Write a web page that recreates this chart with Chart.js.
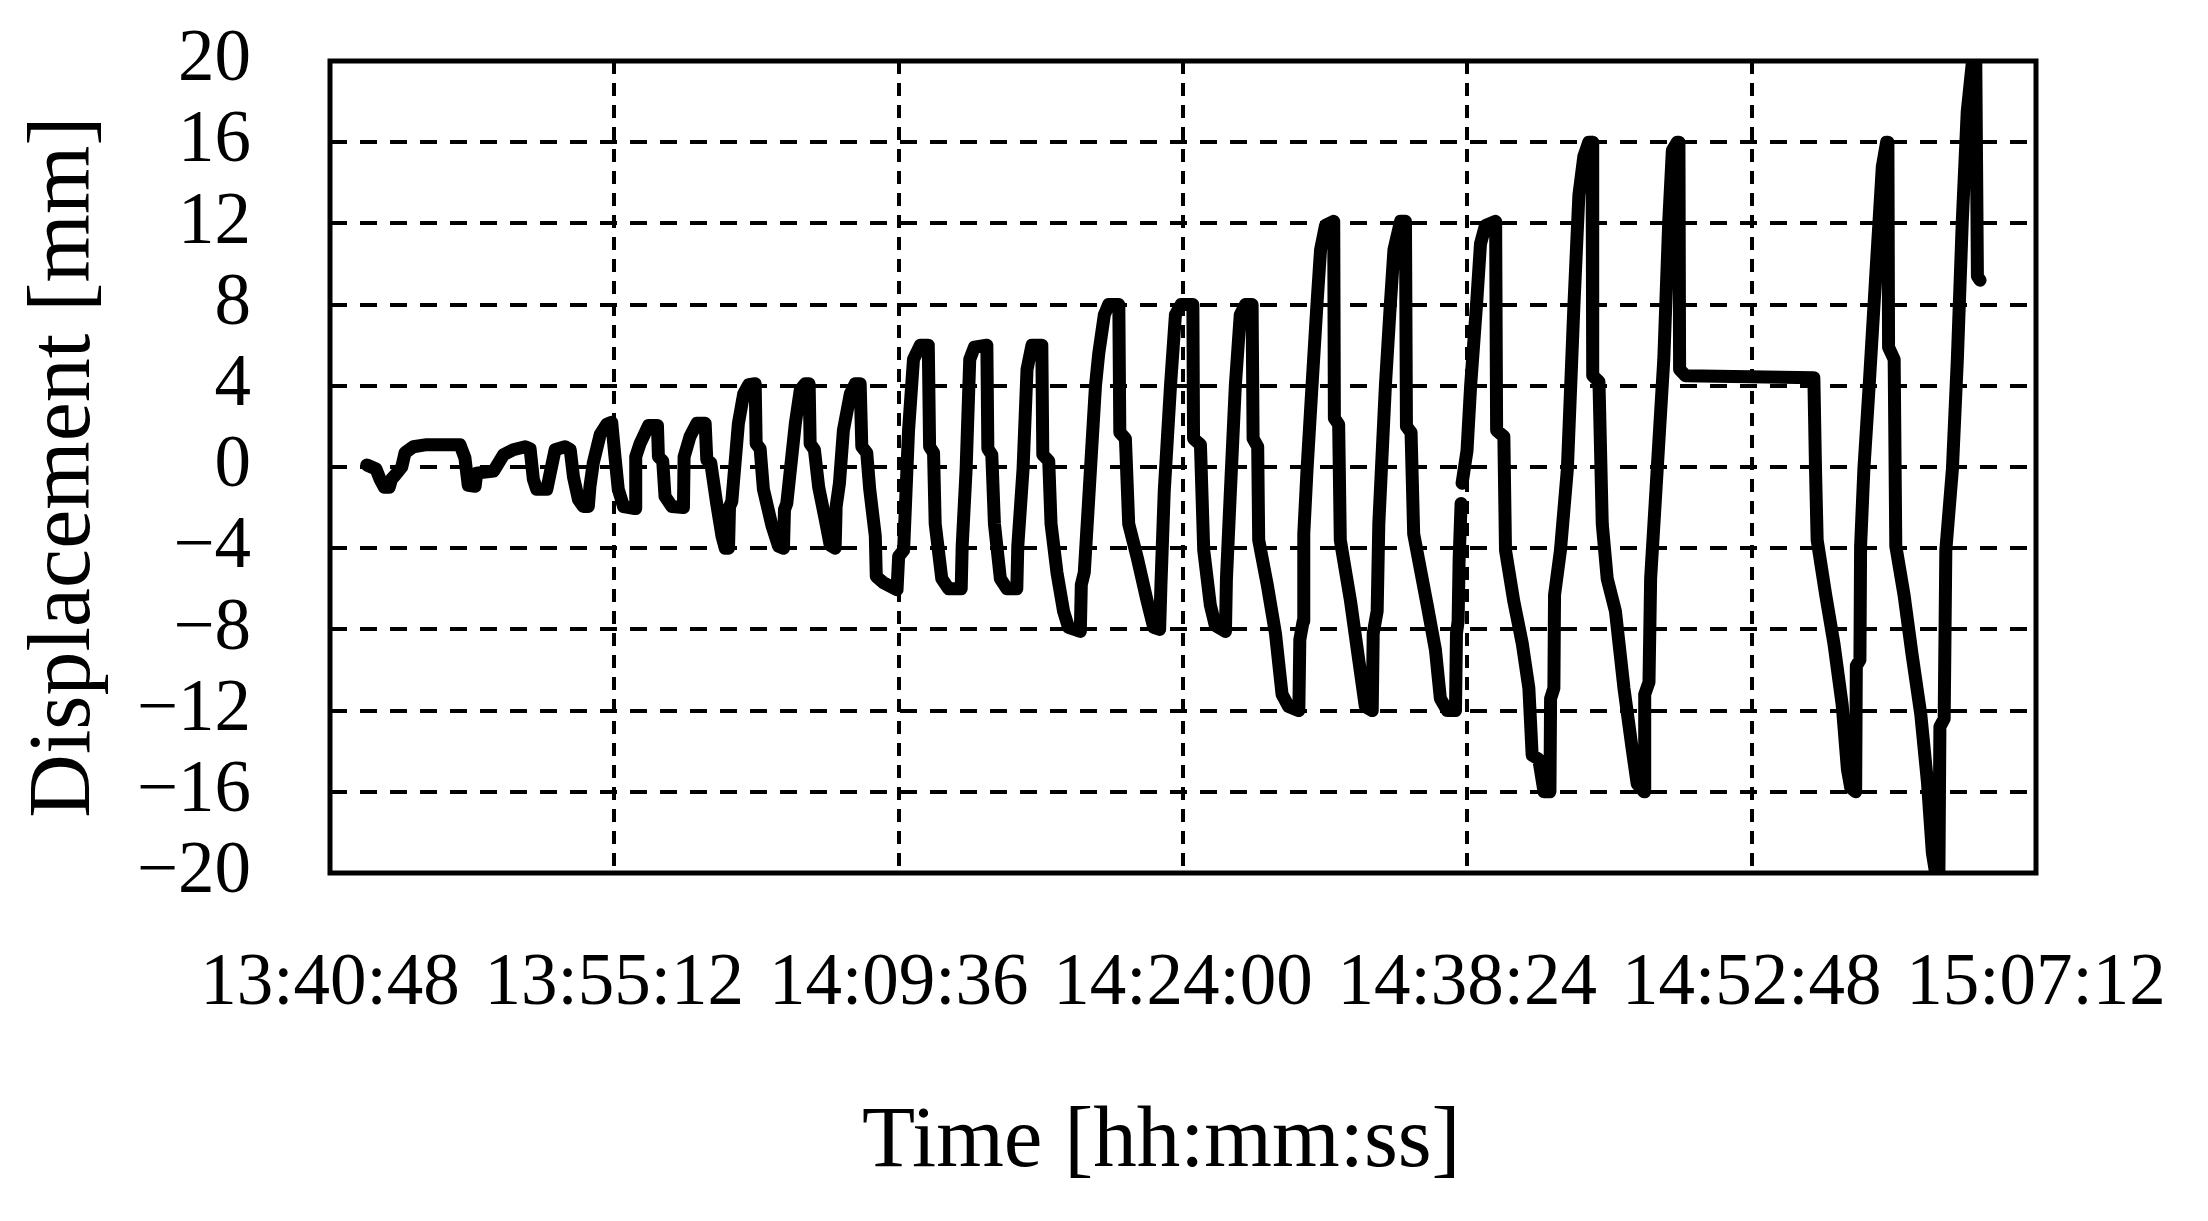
<!DOCTYPE html>
<html>
<head>
<meta charset="utf-8">
<script src="https://cdn.jsdelivr.net/npm/chart.js@4.4.1/dist/chart.umd.min.js"></script>
<style>
  html, body { margin: 0; padding: 0; background: #fff; }
  #wrap { width: 2208px; height: 1221px; }
</style>
</head>
<body>
<div id="wrap"><canvas id="disp"></canvas></div>
<script>
// x ticks: every 14:24 from 13:40:48
const timeLabels = ['13:40:48', '13:55:12', '14:09:36', '14:24:00', '14:38:24', '14:52:48', '15:07:12'];
const tickStep = 864; // seconds
const yTicks = [-20, -16, -12, -8, -4, 0, 4, 8, 12, 16, 20];

// [seconds after 13:40:48, displacement mm]
const warmUp = [[112,0.1],[140,-0.1],[152,-0.6],[165,-1.0],[180,-1.0],[187,-0.6],[198,-0.4],[218,0],[228,0.7],[253,1.0],
  [294,1.1],[395,1.1],[410,0.45],[420,-0.9],[441,-0.95],[446,-0.3],[497,-0.2],[527,0.6],[557,0.85],[593,1.0],
  [608,0.9],[618,-0.6],[628,-1.1],[659,-1.1],[669,-0.3],[684,0.85],[714,1.0],[730,0.85],[740,-0.5]];
const amp2 = [[755,-1.6],[770,-1.95],[785,-1.95],[790,-0.95],[800,0.2],[821,1.6],[841,2.1],[856,2.2],[866,0.5],[876,-1.1],
  [892,-1.95],[927,-2.05],[929,0.5],[942,1.15],[968,2.05],[995,2.05],[998,0.5],[1011,0.3],[1018,-1.45],[1039,-1.95],
  [1074,-2.0],[1076,0.5],[1094,1.5],[1115,2.15],[1140,2.15],[1145,0.35],[1157,0.2]];
const amp4 = [[1175,-1.8],[1191,-3.4],[1201,-4.0],[1211,-4.0],[1214,-1.95],[1221,-1.7],[1241,2.15],[1257,3.6],[1272,4.05],[1292,4.1],
  [1295,1.15],[1307,0.9],[1317,-1.1],[1343,-2.9],[1363,-3.9],[1378,-4.0],[1381,-2.1],[1388,-1.8],[1414,2.15],[1429,3.8],
  [1444,4.1],[1456,4.1],[1459,1.15],[1472,0.85],[1485,-1.0],[1505,-2.6],[1520,-3.85],[1535,-4.0],[1538,-1.95],[1548,-0.8],
  [1560,1.8],[1581,3.6],[1596,4.1],[1611,4.1],[1616,1.0],[1631,0.7],[1640,-1.1]];
const amp6 = [[1657,-3.4],[1660,-5.4],[1682,-5.7],[1723,-6.05],[1728,-4.4],[1743,-4.1],[1758,1.8],[1773,5.3],[1794,6.0],[1818,6.0],
  [1822,1.0],[1834,0.7],[1839,-2.8],[1859,-5.5],[1880,-6.0],[1918,-6.0],[1921,-3.9],[1933,-0.1],[1944,5.3],[1958,5.9],
  [1996,6.0],[1999,0.9],[2011,0.6],[2019,-2.8],[2037,-5.5],[2057,-6.0],[2087,-6.0],[2090,-3.9],[2106,-0.1],[2118,4.8],
  [2133,6.0],[2163,6.0],[2166,0.6],[2184,0.3]];
const amp8 = [[2191,-2.8],[2209,-5.2],[2229,-7.1],[2244,-7.9],[2280,-8.1],[2283,-5.8],[2292,-5.2],[2305,-1.7],[2326,4.0],[2336,5.6],
  [2353,7.5],[2366,8.0],[2397,8.0],[2400,1.7],[2417,1.4],[2427,-2.8],[2452,-4.4],[2483,-6.6],[2503,-7.9],[2521,-8.0],
  [2525,-5.8],[2535,-1.2],[2554,4.0],[2569,7.5],[2586,8.0],[2622,8.0],[2624,1.4],[2645,1.1],[2655,-4.1],[2675,-6.8],
  [2690,-7.8],[2721,-8.1],[2724,-5.5],[2736,-1.2],[2751,4.0],[2766,7.5],[2782,8.0],[2802,8.0],[2805,1.4],[2819,1.0]];
const amp12 = [[2822,-3.6],[2848,-5.8],[2873,-8.2],[2893,-11.2],[2913,-11.8],[2944,-12.0],[2947,-8.5],[2957,-7.6],[2959,-3.3],[2969,-0.1],
  [2984,4.0],[2999,8.0],[3010,10.7],[3025,11.9],[3050,12.1],[3052,2.4],[3065,2.1],[3070,-3.6],[3101,-6.6],[3126,-9.5],
  [3146,-11.8],[3167,-12.0],[3170,-8.2],[3182,-7.1],[3187,-2.8],[3207,4.0],[3222,8.0],[3233,10.7],[3253,12.1],[3268,12.1],
  [3271,2.0],[3285,1.7],[3293,-3.3],[3334,-6.8],[3359,-9.0],[3374,-11.4],[3395,-12.0],[3420,-12.0],[3423,-8.2],[3428,-7.6],
  [3431,-4.6],[3437,-1.8],[3438,null],[3440,-0.8],[3455,0.8],[3466,4.0],[3484,8.0],[3496,11.0],[3511,11.9],[3542,12.1],
  [3545,1.8],[3567,1.5]];
const amp16 = [[3572,-4.1],[3597,-6.6],[3607,-7.4],[3623,-8.7],[3643,-10.9],[3653,-14.2],[3673,-14.4],[3689,-16.0],[3707,-16.0],[3709,-11.4],
  [3719,-10.9],[3721,-6.3],[3739,-4.1],[3760,-0.1],[3780,8.0],[3795,13.4],[3810,15.3],[3825,16.0],[3835,16.0],[3837,4.5],
  [3856,4.2],[3866,-2.8],[3881,-5.5],[3906,-7.1],[3932,-10.9],[3957,-13.9],[3972,-15.6],[3993,-16.0],[3995,-11.2],[4008,-10.6],
  [4013,-5.5],[4033,-0.1],[4053,5.3],[4068,12.1],[4079,15.6],[4094,16.0],[4099,16.0],[4101,4.8],[4119,4.5],[4509,4.4],
  [4514,-0.1],[4519,-3.6],[4545,-6.3],[4570,-8.7],[4595,-11.7],[4611,-14.9],[4621,-15.8],[4636,-16.0],[4638,-9.8],[4649,-9.5],
  [4651,-3.9],[4661,-0.1],[4677,4.0],[4697,9.4],[4717,14.8],[4730,16.0],[4734,16.0],[4736,5.9],[4753,5.3]];
const amp20 = [[4758,-3.9],[4783,-6.3],[4808,-9.3],[4834,-12.2],[4854,-15.5],[4869,-19.0],[4879,-20.0],[4889,-20.0],[4892,-12.8],[4905,-12.4],
  [4910,-4.1],[4930,-0.1],[4945,5.3],[4960,12.1],[4975,17.5],[4991,20.0],[5001,20.0],[5006,9.4],[5014,9.2]];

const points = [...warmUp, ...amp2, ...amp4, ...amp6, ...amp8, ...amp12, ...amp16, ...amp20]
  .map(([t, d]) => ({ x: t, y: d }));

const serif = "'Liberation Serif', 'Times New Roman', serif";
const xMax = tickStep * (timeLabels.length - 1);

// plot frame drawn under the data line
const frame = {
  id: 'frame',
  beforeDatasetsDraw(chart) {
    const { ctx, chartArea: a } = chart;
    ctx.save();
    ctx.strokeStyle = '#000';
    ctx.lineWidth = 5;
    ctx.strokeRect(a.left, a.top, a.right - a.left, a.bottom - a.top);
    ctx.restore();
  }
};

new Chart(document.getElementById('disp'), {
  type: 'line',
  data: {
    datasets: [{
      data: points,
      borderColor: '#000',
      borderWidth: 13,
      borderCapStyle: 'round',
      borderJoinStyle: 'round',
      pointRadius: 0,
      tension: 0,
      spanGaps: false,
      fill: false
    }]
  },
  options: {
    responsive: true,
    maintainAspectRatio: false,
    animation: false,
    devicePixelRatio: 1,
    layout: { padding: { top: 61, right: 172, left: 0, bottom: 0 } },
    plugins: { legend: { display: false }, tooltip: { enabled: false } },
    scales: {
      x: {
        type: 'linear',
        min: 0,
        max: xMax,
        grid: {
          drawTicks: false,
          lineWidth: 4,
          color: c => (c.tick.value === 0 || c.tick.value === xMax) ? 'rgba(0,0,0,0)' : '#000'
        },
        border: { display: false, dash: [13, 9] },
        ticks: {
          stepSize: tickStep,
          autoSkip: false,
          maxRotation: 0,
          minRotation: 0,
          padding: 68,
          color: '#000',
          font: { family: serif, size: 73 },
          callback: v => timeLabels[Math.round(v / tickStep)]
        },
        title: {
          display: true,
          // trailing no-break spaces nudge the centred title slightly left, as in the figure
          text: 'Time [hh:mm:ss]\u00a0\u00a0',
          color: '#000',
          font: { family: serif, size: 87 },
          padding: { top: 0, bottom: 26 }
        },
        afterFit: s => { s.height = 348; s.paddingLeft = 0; s.paddingRight = 0; }
      },
      y: {
        min: -20,
        max: 20,
        afterBuildTicks: s => { s.ticks = yTicks.map(v => ({ value: v })); },
        grid: {
          drawTicks: false,
          lineWidth: 4,
          color: c => (Math.abs(c.tick.value) === 20) ? 'rgba(0,0,0,0)' : '#000'
        },
        border: { display: false, dash: [17, 13] },
        ticks: {
          autoSkip: false,
          padding: 79,
          color: '#000',
          font: { family: serif, size: 73 },
          callback: v => v < 0 ? '\u2212' + Math.abs(v) : String(v)
        },
        title: {
          display: true,
          text: 'Displacement [mm]',
          color: '#000',
          font: { family: serif, size: 88 },
          padding: { top: 13, bottom: 0 }
        },
        afterFit: s => { s.width = 330; s.paddingTop = 0; s.paddingBottom = 0; }
      }
    }
  },
  plugins: [frame]
});
</script>
</body>
</html>
